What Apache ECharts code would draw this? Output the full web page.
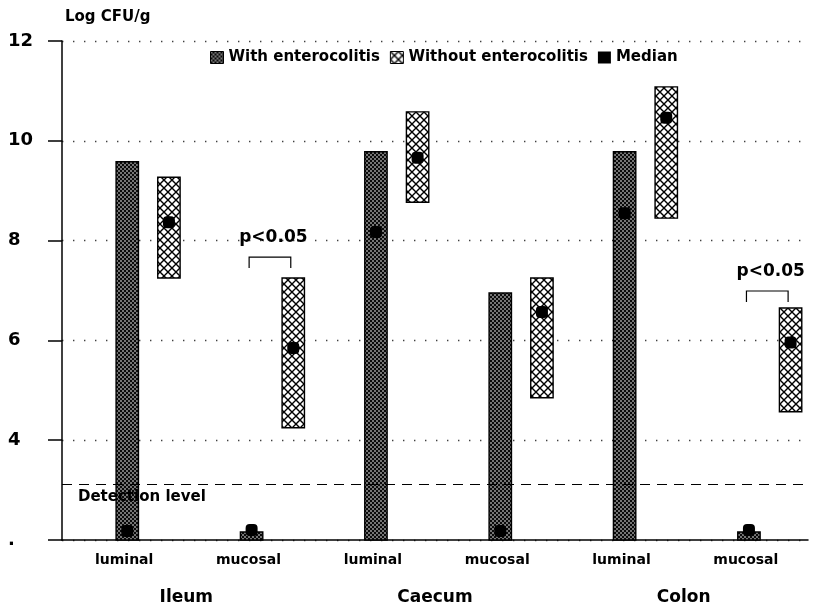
<!DOCTYPE html>
<html>
<head>
<meta charset="utf-8">
<script src="https://cdn.jsdelivr.net/npm/echarts@6/dist/echarts.min.js"></script>
<style>html,body{margin:0;padding:0;background:#fff;}#chart{width:818px;height:611px;}</style>
</head>
<body>
<div id="chart"></div>
<script>
// ---- data ----
const categories = ['luminal', 'mucosal', 'luminal', 'mucosal', 'luminal', 'mucosal'];
const regions = ['Ileum', 'Caecum', 'Colon'];
const withLow = [2, 2, 2, 2, 2, 2];
const withHigh = [9.58, 2.16, 9.78, 6.95, 9.78, 2.16];
const withMedian = [2.18, 2.2, 8.17, 2.18, 8.55, 2.2];
const withoutLow = [7.25, 4.25, 8.77, 4.85, 8.45, 4.57];
const withoutHigh = [9.27, 7.25, 10.58, 7.25, 11.08, 6.65];
const withoutMedian = [8.37, 5.85, 9.66, 6.57, 10.46, 5.96];
const detectionLevel = 3.12;
const sigIndex = [1, 5];
const sigBracket = [7.67, 6.99];
const sigBracketEnd = [7.45, 6.77];
const sigTextAt = [8.07, 7.37];
const sigLabel = ['p<0.05', 'p<0.05'];

// ---- patterns ----
function densePattern() {
  const c = document.createElement('canvas'); c.width = 4; c.height = 4;
  const g = c.getContext('2d');
  g.fillStyle = '#0a0a0a'; g.fillRect(0, 0, 4, 4);
  g.fillStyle = '#fff';
  [[1, 1], [3, 3]].forEach(p => { g.beginPath(); g.arc(p[0], p[1], 0.82, 0, Math.PI * 2); g.fill(); });
  return { image: c, repeat: 'repeat' };
}
function crossPattern() {
  const c = document.createElement('canvas'); c.width = 8; c.height = 8;
  const g = c.getContext('2d');
  g.fillStyle = '#fff'; g.fillRect(0, 0, 8, 8);
  g.strokeStyle = '#000'; g.lineWidth = 1.4;
  g.beginPath(); g.moveTo(-1, -1); g.lineTo(9, 9); g.moveTo(-1, 9); g.lineTo(9, -1); g.stroke();
  return { image: c, repeat: 'repeat' };
}
const patWith = densePattern();
const patWithout = crossPattern();

const FONT = 'DejaVu Sans';
const WITH_OFF = 0.025, WITHOUT_OFF = 0.36, BAR_W = 0.18;

function rangeRenderer(offset, fill) {
  return function (params, api) {
    const i = api.value(0);
    const lo = api.coord([i, api.value(1)]);
    const hi = api.coord([i, api.value(2)]);
    const band = api.size([1, 0])[0];
    const w = band * BAR_W;
    const cx = lo[0] + band * offset;
    return {
      type: 'rect',
      shape: { x: cx - w / 2, y: hi[1], width: w, height: lo[1] - hi[1] },
      style: { fill: fill, stroke: '#000', lineWidth: 1.4 }
    };
  };
}

const withData = categories.map((c, i) => [i, withLow[i], withHigh[i]]);
const withoutData = categories.map((c, i) => [i, withoutLow[i], withoutHigh[i]]);
const medianData = categories.map((c, i) => [i, withMedian[i], 0])
  .concat(categories.map((c, i) => [i, withoutMedian[i], 1]));
const sigData = sigIndex.map((ci, k) => [ci, sigBracket[k], sigBracketEnd[k], sigTextAt[k], k]);

const chart = echarts.init(document.getElementById('chart'));
chart.setOption({
  animation: false,
  backgroundColor: '#fff',
  textStyle: { fontFamily: FONT },
  grid: { left: 62, right: 10, top: 41, bottom: 71, containLabel: false, outerBoundsMode: 'none' },
  legend: {
    left: 205, top: 45, itemWidth: 13, itemHeight: 12, itemGap: 10,
    textStyle: { fontFamily: FONT, fontWeight: 'bold', fontSize: 15, color: '#000' },
    data: [
      { name: 'With enterocolitis', icon: 'rect', itemStyle: { color: patWith, borderColor: '#000', borderWidth: 1 } },
      { name: 'Without enterocolitis', icon: 'rect', itemStyle: { color: patWithout, borderColor: '#000', borderWidth: 1 } },
      { name: 'Median', icon: 'rect', itemStyle: { color: '#000' } }
    ]
  },
  xAxis: [
    {
      type: 'category', data: categories, position: 'bottom',
      axisLine: { show: true, lineStyle: { color: '#000', width: 1.5 } },
      axisTick: { show: false },
      axisLabel: { color: '#000', fontFamily: FONT, fontWeight: 'bold', fontSize: 14, margin: 13, interval: 0 },
      splitLine: { show: false }
    },
    {
      type: 'category', data: regions, position: 'bottom',
      axisLine: { show: false }, axisTick: { show: false },
      axisLabel: { color: '#000', fontFamily: FONT, fontWeight: 'bold', fontSize: 17, margin: 49, interval: 0 },
      splitLine: { show: false }
    }
  ],
  yAxis: {
    type: 'value', min: 2, max: 12, interval: 2,
    name: 'Log CFU/g', nameLocation: 'end', nameGap: 24,
    nameTextStyle: { color: '#000', fontFamily: FONT, fontWeight: 'bold', fontSize: 15, align: 'left', verticalAlign: 'middle', padding: [0, 0, 0, 3] },
    axisLine: { show: true, lineStyle: { color: '#000', width: 1.5 } },
    axisTick: { show: true, length: 14, lineStyle: { color: '#000', width: 1.5 } },
    axisLabel: {
      color: '#000', fontFamily: FONT, fontWeight: 'bold', fontSize: 18, align: 'left', margin: 54,
      formatter: v => (v === 2 ? '.' : String(v))
    },
    splitLine: { show: true, lineStyle: { color: '#000', width: 1.4, type: [1.4, 9.6], opacity: 0.75 } }
  },
  series: [
    {
      name: 'detection', type: 'line', data: [], z: 1, silent: true,
      markLine: {
        silent: true, symbol: 'none', animation: false,
        data: [{ yAxis: detectionLevel }],
        lineStyle: { color: '#000', type: [10, 7], width: 1.2 },
        label: {
          show: true, position: 'insideStartBottom', formatter: 'Detection level',
          color: '#000', fontFamily: FONT, fontWeight: 'bold', fontSize: 15, distance: 5, padding: [0, 0, 0, 11]
        }
      }
    },
    {
      name: 'With enterocolitis', type: 'custom', z: 3, data: withData,
      itemStyle: { color: patWith },
      encode: { x: 0, y: [1, 2] },
      renderItem: rangeRenderer(WITH_OFF, patWith)
    },
    {
      name: 'Without enterocolitis', type: 'custom', z: 3, data: withoutData,
      itemStyle: { color: patWithout },
      encode: { x: 0, y: [1, 2] },
      renderItem: rangeRenderer(WITHOUT_OFF, patWithout)
    },
    {
      name: 'Median', type: 'custom', z: 4, data: medianData,
      itemStyle: { color: '#000' },
      encode: { x: 0, y: 1 },
      renderItem: function (params, api) {
        const i = api.value(0);
        const p = api.coord([i, api.value(1)]);
        const band = api.size([1, 0])[0];
        const off = api.value(2) === 0 ? WITH_OFF : WITHOUT_OFF;
        const cx = p[0] + band * off;
        const s = 12;
        return { type: 'rect', shape: { x: cx - s / 2, y: p[1] - s / 2, width: s, height: s, r: 4 }, style: { fill: '#000' } };
      }
    },
    {
      name: 'significance', type: 'custom', z: 4, data: sigData, silent: true,
      encode: { x: 0, y: 1 },
      renderItem: function (params, api) {
        const i = api.value(0);
        const top = api.coord([i, api.value(1)]);
        const bot = api.coord([i, api.value(2)]);
        const txt = api.coord([i, api.value(3)]);
        const band = api.size([1, 0])[0];
        const x1 = top[0] + band * 0.005, x2 = top[0] + band * 0.34;
        return {
          type: 'group',
          children: [
            { type: 'polyline', shape: { points: [[x1, bot[1]], [x1, top[1]], [x2, top[1]], [x2, bot[1]]] }, style: { stroke: '#000', lineWidth: 1.2, fill: null } },
            { type: 'text', style: { text: sigLabel[api.value(4)], x: top[0] + band * 0.2, y: txt[1], align: 'center', verticalAlign: 'middle', font: 'bold 17px "DejaVu Sans"', fill: '#000' } }
          ]
        };
      }
    }
  ]
});
</script>
</body>
</html>
